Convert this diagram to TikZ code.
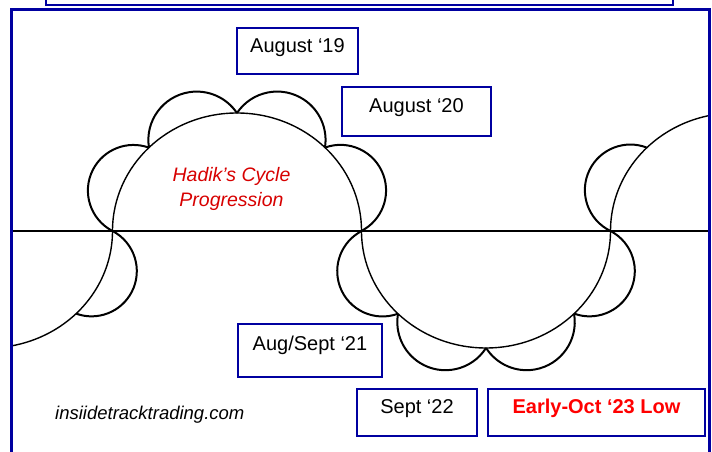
\documentclass[tikz,border=0pt]{standalone}
\usepackage{fontspec}
\setmainfont{Liberation Sans}
\usetikzlibrary{calc}
\definecolor{navyb}{RGB}{0,0,160}
\definecolor{hadred}{RGB}{215,0,0}
\definecolor{lowred}{RGB}{255,0,0}
\newcommand\mylobe[3]{%
  \draw[lobeline] let \p1=(#1), \p2=(#2),
    \n1={atan2(\y2-\y1,\x2-\x1)},
    \n2={veclen(\x2-\x1,\y2-\y1)/2},
    \n3={atan(#3)},
    \n4={\n2*sqrt(1+(#3)*(#3))},
    \n5={\n1+180-\n3},
    \n6={-(180-2*\n3)}
    in (\p1) arc[start angle=\n5, delta angle=\n6, radius=\n4];}
\begin{document}
\begin{tikzpicture}[x=1pt,y=1pt,
  lobeline/.style={line width=2pt, line join=round},
  bigline/.style={line width=1.4pt},
  axisline/.style={line width=1.5pt},
  frameline/.style={draw=navyb, line width=3pt},
  lblbox/.style={draw=navyb, line width=2.5pt, fill=white, inner sep=0pt},
  lbltext/.style={font=\fontsize{20}{24}\selectfont, anchor=base, inner sep=0pt},
  hadtext/.style={font=\fontsize{19.5}{24}\selectfont\itshape, text=hadred, anchor=base, inner sep=0pt}]
\useasboundingbox (0,0) rectangle (712,452);
% centres of the big half circles
\coordinate (c0) at (-12,221);
\coordinate (c1) at (237,221);
\coordinate (c2) at (486,221);
\coordinate (c3) at (735,221);
% points on the half circles
\coordinate (z360) at ($(c0)+(0:124.5 and 117)$);
\coordinate (z315) at ($(c0)+(315:124.5 and 117)$);
\coordinate (a180) at ($(c1)+(180:124.5 and 118)$);
\coordinate (a135) at ($(c1)+(135:124.5 and 118)$);
\coordinate (a90)  at ($(c1)+(90:124.5 and 118)$);
\coordinate (a45)  at ($(c1)+(45:124.5 and 118)$);
\coordinate (a0)   at ($(c1)+(0:124.5 and 118)$);
\coordinate (b360) at ($(c2)+(360:124.5 and 117)$);
\coordinate (b315) at ($(c2)+(315:124.5 and 117)$);
\coordinate (b270) at ($(c2)+(270:124.5 and 117)$);
\coordinate (b225) at ($(c2)+(225:124.5 and 117)$);
\coordinate (b180) at ($(c2)+(180:124.5 and 117)$);
\coordinate (d180) at ($(c3)+(180:124.5 and 118)$);
\coordinate (d135) at ($(c3)+(135:124.5 and 118)$);
\coordinate (hl) at (11,221);
\coordinate (hr) at (709.5,221);
\begin{scope}
  \clip (11,-10) rectangle (709.5,442);
  \draw[axisline] (hl) -- (hr);
  % big half circles
  \draw[bigline] (z360) arc[start angle=0, end angle=-100, x radius=124.5, y radius=117];
  \draw[bigline] (a180) arc[start angle=180, end angle=0, x radius=124.5, y radius=118];
  \draw[bigline] (b180) arc[start angle=180, end angle=360, x radius=124.5, y radius=117];
  \draw[bigline] (d180) arc[start angle=180, end angle=75, x radius=124.5, y radius=118];
  % scallops
  \mylobe{z360}{z315}{0.066}
  \mylobe{a180}{a135}{0.066}
  \mylobe{a135}{a90}{0.22}
  \mylobe{a90}{a45}{0.22}
  \mylobe{a45}{a0}{0.066}
  \mylobe{b360}{b315}{0.066}
  \mylobe{b315}{b270}{0.2}
  \mylobe{b270}{b225}{0.2}
  \mylobe{b225}{b180}{0.066}
  \mylobe{d180}{d135}{0.04}
\end{scope}
% frames
\draw[frameline] (11,-10) rectangle (709.5,442);
\draw[draw=navyb, line width=2.5pt] (46,447) rectangle (673,470);
% title text
\node[hadtext] (h1) at (231.5,270) {Hadik’s Cycle};
\node[hadtext] (h2) at (231.5,245) {Progression};
\node[font=\fontsize{18.5}{22}\selectfont\itshape, anchor=base west, inner sep=0pt] (site) at (55,32) {insiidetracktrading.com};
% date boxes
\node[lblbox, minimum width=121, minimum height=46] (b19) at (297.5,401) {};
\node[lbltext] (t19) at ([yshift=-2]b19.center) {August ‘19};
\node[lblbox, minimum width=149, minimum height=49] (b20) at (416.5,340.5) {};
\node[lbltext] (t20) at ([yshift=-1]b20.center) {August ‘20};
\node[lblbox, minimum width=144, minimum height=53] (b21) at (310,101.5) {};
\node[lbltext] (t21) at ([yshift=0]b21.center) {Aug/Sept ‘21};
\node[lblbox, minimum width=120, minimum height=47] (b22) at (417,39.5) {};
\node[lbltext] (t22) at ([yshift=-1]b22.center) {Sept ‘22};
\node[lblbox, minimum width=217, minimum height=47] (b23) at (596.5,39.5) {};
\node[lbltext, font=\fontsize{20}{24}\selectfont\bfseries, text=lowred] (t23) at ([yshift=-1]b23.center) {Early-Oct ‘23 Low};
\end{tikzpicture}
\end{document}
